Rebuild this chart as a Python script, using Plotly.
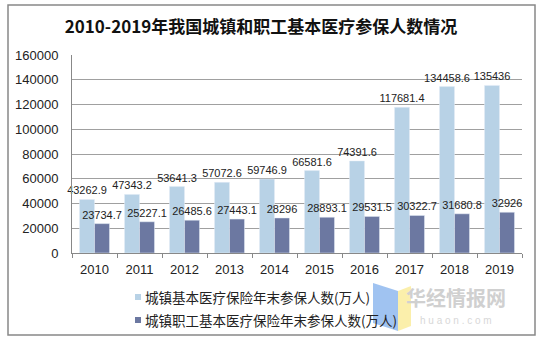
import plotly.graph_objects as go

years = ["2010", "2011", "2012", "2013", "2014", "2015", "2016", "2017", "2018", "2019"]
urban = [43262.9, 47343.2, 53641.3, 57072.6, 59746.9, 66581.6, 74391.6, 117681.4, 134458.6, 135436]
worker = [23734.7, 25227.1, 26485.6, 27443.1, 28296, 28893.1, 29531.5, 30322.7, 31680.8, 32926]
name_urban = "城镇基本医疗保险年末参保人数(万人)"
name_worker = "城镇职工基本医疗保险年末参保人数(万人)"
title = "2010-2019年我国城镇和职工基本医疗参保人数情况"
c_urban = "#B8D2E6"
c_worker = "#6C78A1"

def fmt(v):
    return str(int(v)) if float(v).is_integer() else str(v)

fig = go.Figure()
fig.add_bar(x=years, y=urban, name=name_urban, marker_color=c_urban,
            text=[fmt(v) for v in urban], textposition="outside", cliponaxis=False,
            constraintext="none", textfont=dict(size=11, color="#222"))
fig.add_bar(x=years, y=worker, name=name_worker, marker_color=c_worker,
            text=[fmt(v) for v in worker], textposition="outside", cliponaxis=False,
            constraintext="none", textfont=dict(size=11, color="#222"))

W, H = 543, 342
L, R, T, B = 72, 21, 55, 89
pw, ph = W - L - R, H - T - B

def px(x):
    return (x - L) / pw

def py(y):
    return (H - B - y) / ph

fig.update_layout(
    width=W, height=H, paper_bgcolor="white", plot_bgcolor="white",
    margin=dict(l=L, r=R, t=T, b=B),
    bargap=1/3, bargroupgap=0, barmode="group",
    font=dict(family="Liberation Sans, Noto Sans CJK SC", color="#222"),
    title=dict(text="<b>" + title + "</b>", x=261/W, xref="container", xanchor="center",
               y=1 - 27/H, yref="container", yanchor="middle",
               font=dict(family="Noto Sans CJK SC", size=17, color="#111")),
    uniformtext=dict(mode=False),
    showlegend=False,
)
fig.update_xaxes(showline=True, linecolor="#888", ticks="outside", tickson="boundaries",
                 ticklen=4, tickcolor="#888", tickfont=dict(size=13), showgrid=False,
                 ticklabelstandoff=4)
fig.update_yaxes(range=[0, 160000], dtick=20000, tickformat="d", showline=True, linecolor="#888",
                 gridcolor="#a0a0a0", gridwidth=1, tickfont=dict(size=13), ticks="",
                 ticklabelstandoff=10, zeroline=False)

# outer border
fig.add_shape(type="rect", xref="paper", yref="paper", x0=px(8), x1=px(535),
              y0=py(335), y1=py(5), line=dict(color="#888", width=1.5),
              fillcolor="rgba(0,0,0,0)", layer="below")

# legend (drawn manually to match the small square markers)
for name, col, yc in [(name_urban, c_urban, 297), (name_worker, c_worker, 320)]:
    fig.add_shape(type="rect", xref="paper", yref="paper", x0=px(135), x1=px(141),
                  y0=py(yc + 3), y1=py(yc - 3), fillcolor=col, line=dict(width=0))
    fig.add_annotation(xref="paper", yref="paper", x=px(143), y=py(yc), xanchor="left",
                       yanchor="middle", text=name, showarrow=False,
                       font=dict(family="Noto Sans CJK SC", size=13.5, color="#222"))

# watermark
fig.add_shape(type="path", xref="paper", yref="paper",
              path="M %f %f L %f %f L %f %f L %f %f Z" % (px(373), py(283), px(398), py(291),
                                                          px(398), py(331), px(373), py(323)),
              fillcolor="rgba(120,170,235,0.7)", line=dict(width=0), layer="below")
fig.add_shape(type="path", xref="paper", yref="paper",
              path="M %f %f L %f %f L %f %f L %f %f Z" % (px(398), py(291), px(411), py(286),
                                                          px(411), py(326), px(398), py(331)),
              fillcolor="rgba(250,235,150,0.8)", line=dict(width=0), layer="below")
fig.add_annotation(xref="paper", yref="paper", x=px(456), y=py(297), xanchor="center",
                   yanchor="middle", text="<b>华经情报网</b>",
                   showarrow=False, font=dict(family="Noto Sans CJK SC", size=20, color="#d0d0d0"))
fig.add_annotation(xref="paper", yref="paper", x=px(456), y=py(320), xanchor="center",
                   yanchor="middle", text="h u a o n . c o m",
                   showarrow=False, font=dict(family="Liberation Sans", size=10, color="#d8d8d8"))

fig.write_html("out.html")
